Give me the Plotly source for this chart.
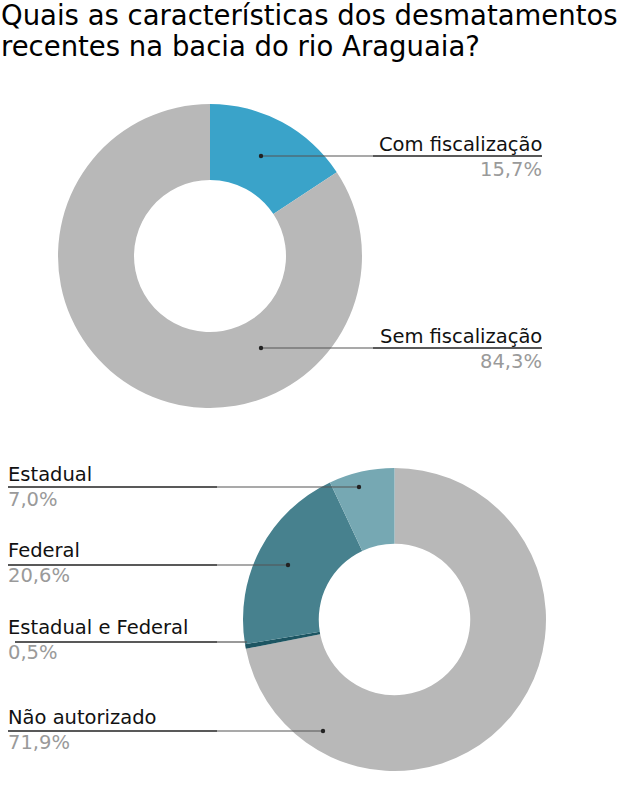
import plotly.graph_objects as go

W, H = 620, 786

# ---- data ----
title_lines = ["Quais as características dos desmatamentos", "recentes na bacia do rio Araguaia?"]

top_labels = ["Com fiscalização", "Sem fiscalização"]
top_values = [15.7, 84.3]
top_colors = ["#3aa3c9", "#b8b8b8"]

bot_labels = ["Estadual", "Federal", "Estadual e Federal", "Não autorizado"]
bot_values = [7.0, 20.6, 0.5, 71.9]
bot_colors = ["#76a8b3", "#47818e", "#1c5562", "#b8b8b8"]


def fmt(v):
    return f"{v:.1f}".replace(".", ",") + "%"


def px(x):
    return x / W


def py(y):
    return 1 - y / H


fig = go.Figure()

fig.add_trace(go.Pie(
    labels=top_labels, values=top_values, sort=False, direction="clockwise",
    rotation=0, hole=0.5, marker=dict(colors=top_colors, line=dict(width=0)),
    textinfo="none", hoverinfo="label+percent", showlegend=False,
    domain=dict(x=[px(58), px(362)], y=[py(408), py(104)]),
))
# slices run counterclockwise from 12 o'clock: draw clockwise in reversed order
fig.add_trace(go.Pie(
    labels=bot_labels[::-1], values=bot_values[::-1], sort=False, direction="clockwise",
    rotation=0, hole=0.5, marker=dict(colors=bot_colors[::-1], line=dict(width=0)),
    textinfo="none", hoverinfo="label+percent", showlegend=False,
    domain=dict(x=[px(243), px(546)], y=[py(771), py(468)]),
))

FONT = "DejaVu Sans, Verdana, sans-serif"
LS = 19.5
TS = 27.5
DARK = "#222222"
LINEGRAY = "#555555"
PCT = "#9a9a9a"

annotations = []
shapes = []

# title
for i, t in enumerate(title_lines):
    base = 25 + i * 31
    annotations.append(dict(
        text=t, x=px(0), y=py(base - 0.36 * TS), xref="paper", yref="paper",
        xanchor="left", yanchor="middle", showarrow=False,
        font=dict(family=FONT, size=TS, color="#000000"), xshift=-1,
    ))


def label(text, pct, x, anchor, base_y, line_y, dot_x, line_start, split_x, dot=True):
    shift = 2 if anchor == "right" else -2
    annotations.append(dict(
        text=text, x=px(x), y=py(base_y - 0.36 * LS), xref="paper", yref="paper",
        xanchor=anchor, yanchor="middle", showarrow=False, xshift=shift,
        font=dict(family=FONT, size=LS, color="#111111"),
    ))
    annotations.append(dict(
        text=pct, x=px(x), y=py(base_y + 25 - 0.36 * LS), xref="paper", yref="paper",
        xanchor=anchor, yanchor="middle", showarrow=False, xshift=shift,
        font=dict(family=FONT, size=LS, color=PCT),
    ))
    # text underline (dark) segment and connector (lighter) segment
    shapes.append(dict(type="line", xref="paper", yref="paper",
                       x0=px(line_start), x1=px(split_x), y0=py(line_y), y1=py(line_y),
                       line=dict(color=DARK, width=1.5)))
    shapes.append(dict(type="line", xref="paper", yref="paper",
                       x0=px(split_x), x1=px(dot_x), y0=py(line_y), y1=py(line_y),
                       line=dict(color=LINEGRAY, width=1.2)))
    if dot:
        r = 2.2
        shapes.append(dict(type="circle", xref="paper", yref="paper",
                           x0=px(dot_x - r), x1=px(dot_x + r), y0=py(line_y + r), y1=py(line_y - r),
                           fillcolor="#222222", line=dict(width=0)))


# top donut labels (right aligned)
label(top_labels[0], fmt(top_values[0]), 542, "right", 152, 156, 261, 542, 373)
label(top_labels[1], fmt(top_values[1]), 542, "right", 344, 348, 261, 542, 373)

# bottom donut labels (left aligned)
label(bot_labels[0], fmt(bot_values[0]), 8, "left", 482, 487, 359, 8, 217)
label(bot_labels[1], fmt(bot_values[1]), 8, "left", 558, 565, 288, 8, 217)
label(bot_labels[2], fmt(bot_values[2]), 8, "left", 635, 642, 247, 15, 217, dot=False)
label(bot_labels[3], fmt(bot_values[3]), 8, "left", 725, 731, 323, 8, 217)

fig.update_layout(
    width=W, height=H, margin=dict(l=0, r=0, t=0, b=0),
    paper_bgcolor="#ffffff", plot_bgcolor="#ffffff",
    annotations=annotations, shapes=shapes,
    font=dict(family=FONT),
)

fig.write_html("out.html", config={"displayModeBar": False},
               post_script="document.body.style.margin='0px';document.body.style.overflow='hidden';")
